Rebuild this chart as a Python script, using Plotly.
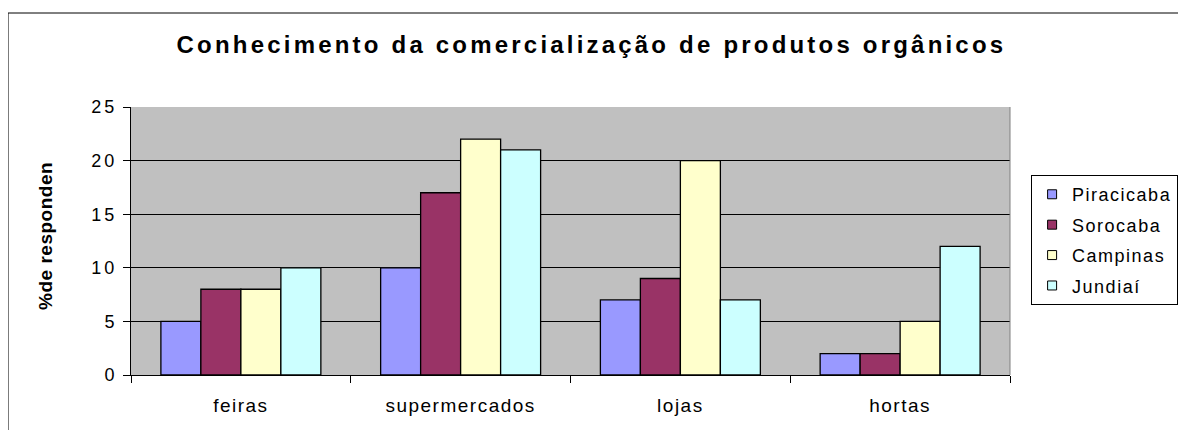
import plotly.graph_objects as go

categories = ["feiras", "supermercados", "lojas", "hortas"]
series_names = ["Piracicaba", "Sorocaba", "Campinas", "Jundiaí"]
piracicaba = [5, 10, 7, 2]
sorocaba = [8, 17, 9, 2]
campinas = [8, 22, 20, 5]
jundiai = [10, 21, 7, 12]
series_values = [piracicaba, sorocaba, campinas, jundiai]
colors = ["#9999FF", "#993366", "#FFFFCC", "#CCFFFF"]
y_ticks = [0, 5, 10, 15, 20, 25]
title_text = "Conhecimento da comercialização de produtos orgânicos"
y_title = "%de responden"

FONT = "Liberation Sans, Arial, sans-serif"


def spaced(text, px):
    return f'<span style="letter-spacing:{px}px">{text}</span>'


fig = go.Figure()
for i, (name, vals, col) in enumerate(zip(series_names, series_values, colors)):
    fig.add_trace(go.Bar(
        x=categories, y=vals, name=name,
        marker=dict(color=col, line=dict(color="black", width=1.3)),
        showlegend=False,
    ))
    # legend entry with a small square swatch
    fig.add_trace(go.Scatter(
        x=[None], y=[None], mode="markers", name=spaced(name, 1.5),
        marker=dict(symbol="square", size=9, color=col,
                    line=dict(color="black", width=1)),
        legendgroup=f"g{i}", showlegend=True, hoverinfo="skip",
    ))

# page body has an 8px margin, so the figure is offset by (8, 8)
fig.update_layout(
    width=1178, height=422,
    margin=dict(l=123, r=176, t=99, b=55, autoexpand=False),
    paper_bgcolor="white",
    plot_bgcolor="#C0C0C0",
    barmode="group",
    bargap=0.272,
    bargroupgap=0,
    font=dict(family=FONT, color="black"),
    showlegend=True,
    legend=dict(
        x=1.024, y=0.746, xanchor="left", yanchor="top",
        bordercolor="black", borderwidth=1, bgcolor="white",
        font=dict(size=18, family=FONT),
        tracegroupgap=4,
    ),
    title=dict(
        text="<b>" + spaced(title_text, 3.2) + "</b>",
        x=0.4953, xanchor="center", y=0.9123, yanchor="middle",
        font=dict(size=24, family=FONT, color="black"),
    ),
)

fig.update_xaxes(
    showline=True, linecolor="black", linewidth=1,
    ticks="outside", ticklen=7, tickcolor="black",
    tickson="boundaries",
    tickvals=categories,
    ticktext=[spaced(c, 1.5) for c in categories],
    tickfont=dict(size=19, family=FONT),
    ticklabelstandoff=13,
    showgrid=False,
)
fig.update_yaxes(
    range=[0, 25],
    tickvals=y_ticks,
    ticktext=[spaced(str(t), 3) for t in y_ticks],
    tickfont=dict(size=18, family=FONT),
    ticklabelstandoff=2,
    showline=True, linecolor="black", linewidth=1,
    ticks="outside", ticklen=7, tickcolor="black",
    showgrid=True, gridcolor="black", gridwidth=1,
    zeroline=False,
)

# y-axis title
fig.add_annotation(
    text="<b>" + spaced(y_title, 0.5) + "</b>",
    xref="paper", yref="paper", x=-0.0967, y=0.519,
    textangle=-90, showarrow=False, xanchor="center", yanchor="middle",
    font=dict(size=19, family=FONT, color="black"),
)

# right border of plot area (gray)
fig.add_shape(type="line", xref="paper", yref="paper", x0=1, x1=1, y0=0, y1=1,
              line=dict(color="#808080", width=1))
# outer chart border
fig.add_shape(type="rect", xref="paper", yref="paper",
              x0=-0.1399, x1=1.3, y0=-0.4, y1=1.3507,
              line=dict(color="black", width=1), layer="above")

fig.write_html("out.html")
